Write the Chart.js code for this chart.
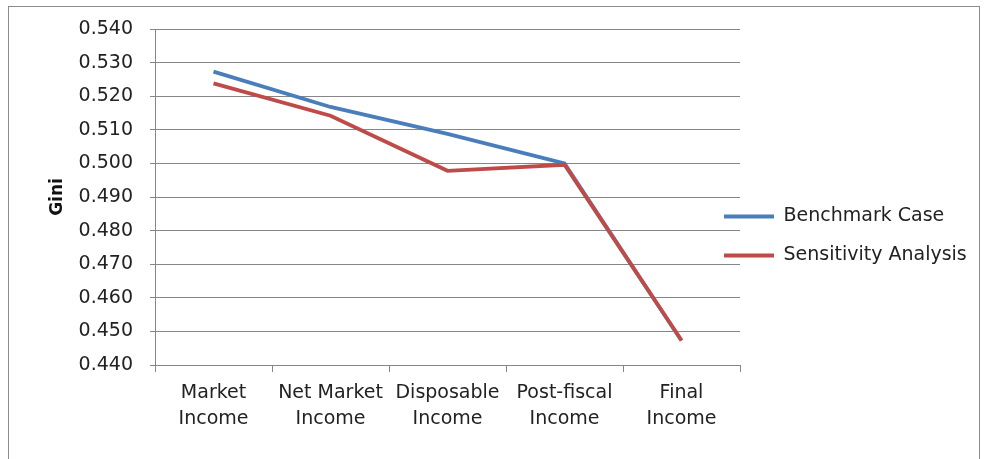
<!DOCTYPE html>
<html>
<head>
<meta charset="utf-8">
<script src="https://cdn.jsdelivr.net/npm/chart.js@4.4.0/dist/chart.umd.min.js"></script>
<style>
  html, body { margin: 0; padding: 0; background: #fff; }
  #box {
    position: absolute; left: 8px; top: 6px; width: 970px; height: 460px;
    border: 1px solid #8c8c8c; border-bottom: none;
  }
  #wrap { position: relative; width: 970px; height: 452px; }
</style>
</head>
<body>
<div id="box"><div id="wrap"><canvas id="giniChart"></canvas></div></div>
<script>
const categorias = [["Market", "Income"], ["Net Market", "Income"], ["Disposable", "Income"], ["Post-fiscal", "Income"], ["Final", "Income"]];
const benchmark = [0.5273, 0.5168, 0.5088, 0.5000, 0.4473];
const sensibilidad = [0.5238, 0.5142, 0.4978, 0.4996, 0.4473];
const yMin = 0.44, yMax = 0.54, yPaso = 0.01;

const fuente = "'DejaVu Sans', sans-serif";
const gris = "#868686";

// ancho fijo de la leyenda y la corremos un poco (en Excel queda encima del área)
const ajustarLeyenda = {
  id: "ajustarLeyenda",
  beforeLayout(chart) {
    const lg = chart.legend;
    if (lg && !lg._fijada) {
      const fitOriginal = lg.fit.bind(lg);
      lg.fit = function () { fitOriginal(); this.width = 239; };
      lg._fijada = true;
    }
  },
  afterLayout(chart) {
    const lg = chart.legend;
    lg.left -= 36; lg.width += 36;
    lg.top -= 8; lg.bottom -= 8;
  }
};

new Chart(document.getElementById("giniChart"), {
  type: "line",
  data: {
    labels: categorias,
    datasets: [
      { label: "Benchmark Case", data: benchmark, borderColor: "#4a7ebb", backgroundColor: "#4a7ebb", borderWidth: 3.8, pointRadius: 0, tension: 0, order: 1 },
      { label: "Sensitivity Analysis", data: sensibilidad, borderColor: "#be4b48", backgroundColor: "#be4b48", borderWidth: 3.8, pointRadius: 0, tension: 0, order: 0 }
    ]
  },
  plugins: [ajustarLeyenda],
  options: {
    responsive: true,
    maintainAspectRatio: false,
    animation: false,
    layout: { padding: { top: 22, left: 0, right: 0, bottom: 0 } },
    plugins: {
      tooltip: { enabled: false },
      legend: {
        position: "right",
        labels: {
          color: "#222",
          font: { family: fuente, size: 19 },
          usePointStyle: true,
          pointStyle: "line",
          pointStyleWidth: 50,
          padding: 20,
          sort: (a, b) => a.datasetIndex - b.datasetIndex
        }
      }
    },
    scales: {
      x: {
        offset: true,
        grid: { drawOnChartArea: false, color: gris, tickLength: 7, offset: true },
        border: { color: gris },
        ticks: { color: "#222", font: { family: fuente, size: 19, lineHeight: 1.32 }, padding: 9, maxRotation: 0, autoSkip: false },
        afterFit(scale) { scale.height = 94; }
      },
      y: {
        min: yMin,
        max: yMax,
        grid: { color: gris, tickLength: 5 },
        border: { color: gris },
        title: { display: true, text: "Gini", color: "#111", font: { family: fuente, size: 17, weight: "bold" }, padding: { top: 38, bottom: 0 } },
        ticks: {
          stepSize: yPaso,
          color: "#222",
          font: { family: fuente, size: 19 },
          padding: 17,
          callback: v => v.toFixed(3)
        },
        afterFit(scale) { scale.width = 146; scale.paddingTop = 0; scale.paddingBottom = 0; }
      }
    }
  }
});
</script>
</body>
</html>
